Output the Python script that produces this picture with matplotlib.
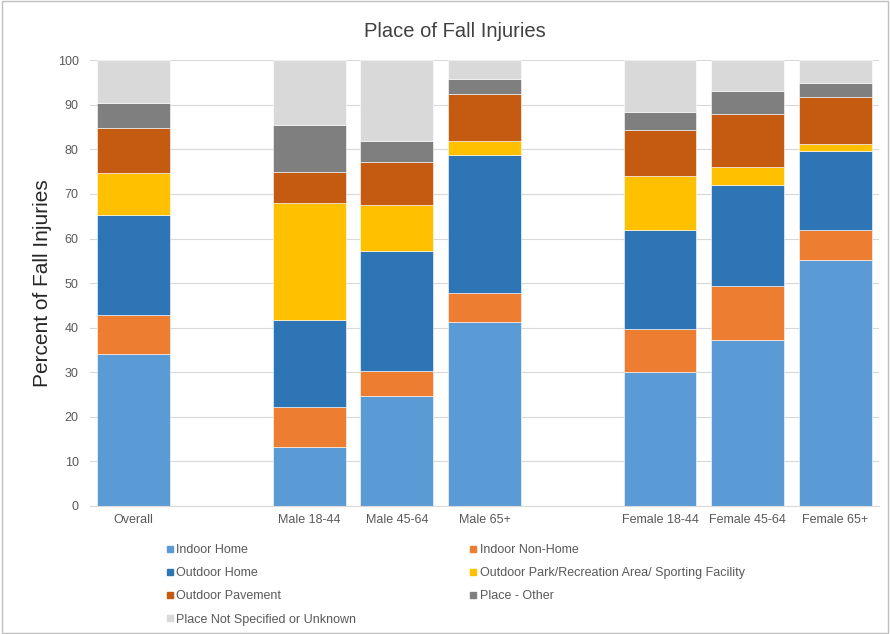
import numpy as np
import matplotlib
matplotlib.use("Agg")
import matplotlib.pyplot as plt
from matplotlib.lines import Line2D

plt.rcParams['font.family'] = ['Liberation Sans', 'DejaVu Sans']

# categories (blank entries are the gaps between groups)
categories = ["Overall", "", "Male 18-44", "Male 45-64", "Male 65+", "",
              "Female 18-44", "Female 45-64", "Female 65+"]

series_names = ["Indoor Home", "Indoor Non-Home", "Outdoor Home",
                "Outdoor Park/Recreation Area/ Sporting Facility",
                "Outdoor Pavement", "Place - Other",
                "Place Not Specified or Unknown"]

nan = np.nan
indoor_home     = [34.2, nan, 13.2, 24.7, 41.2, nan, 30.1, 37.2, 55.2]
indoor_nonhome  = [8.6,  nan, 9.1,  5.6,  6.6,  nan, 9.6,  12.1, 6.8]
outdoor_home    = [22.4, nan, 19.4, 26.8, 30.9, nan, 22.3, 22.7, 17.7]
outdoor_park    = [9.5,  nan, 26.2, 10.5, 3.1,  nan, 12.0, 4.0,  1.6]
outdoor_pave    = [10.1, nan, 7.1,  9.6,  10.6, nan, 10.3, 12.0, 10.4]
place_other     = [5.5,  nan, 10.4, 4.7,  3.4,  nan, 4.1,  5.2,  3.1]
place_unknown   = [9.7,  nan, 14.6, 18.1, 4.2,  nan, 11.6, 6.8,  5.2]

colors = ["#5B9BD5", "#ED7D31", "#2E75B6", "#FFC000",
          "#C55A11", "#7F7F7F", "#D9D9D9"]

series = [indoor_home, indoor_nonhome, outdoor_home, outdoor_park,
          outdoor_pave, place_other, place_unknown]

fig = plt.figure(figsize=(8.9, 6.34), dpi=100)
ax = fig.add_axes([0.101, 0.202, 0.887, 0.703])

x = np.arange(len(categories))
bottom = np.zeros(len(categories))
for vals, col, name in zip(series, colors, series_names):
    v = np.array(vals, dtype=float)
    ax.bar(x, v, width=0.83, bottom=bottom, color=col, label=name,
           edgecolor='white', linewidth=0.4, zorder=2)
    bottom = bottom + np.nan_to_num(v)

ax.set_xlim(-0.5, len(categories) - 0.5)
ax.set_ylim(0, 100)
ax.set_yticks(range(0, 101, 10))
ax.set_xticks(x)
ax.set_xticklabels(categories)
ax.yaxis.grid(True, color='#d9d9d9', linewidth=0.8, zorder=0)
ax.set_axisbelow(True)
for s in ['top', 'right', 'left']:
    ax.spines[s].set_visible(False)
ax.spines['bottom'].set_color('#d9d9d9')
ax.tick_params(axis='both', length=0, labelsize=9, colors='#595959')
ax.tick_params(axis='x', pad=6)
ax.tick_params(axis='y', pad=8)

ax.set_ylabel("Percent of Fall Injuries", fontsize=15, color='#262626',
              labelpad=4)
fig.text(0.511, 0.951, "Place of Fall Injuries", ha='center', va='center',
         fontsize=14.5, color='#404040')

# legend, row-major order like the original
handles = [Line2D([], [], marker='s', linestyle='none', markersize=5,
                  color=c) for c in colors]
order = [0, 2, 4, 6, 1, 3, 5]
fig.legend([handles[i] for i in order], [series_names[i] for i in order],
           ncol=2, loc='upper left', bbox_to_anchor=(0.178, 0.152),
           bbox_transform=fig.transFigure, frameon=False, fontsize=9,
           handlelength=0.8, handletextpad=0.1, labelspacing=0.9,
           columnspacing=9.0, labelcolor='#595959', borderpad=0)

# outer chart border
fig.patches.append(plt.Rectangle((0.002, 0.002), 0.996, 0.996,
                                 transform=fig.transFigure, fill=False,
                                 edgecolor='#bfbfbf', linewidth=1))

fig.savefig("out.png", dpi=100)
